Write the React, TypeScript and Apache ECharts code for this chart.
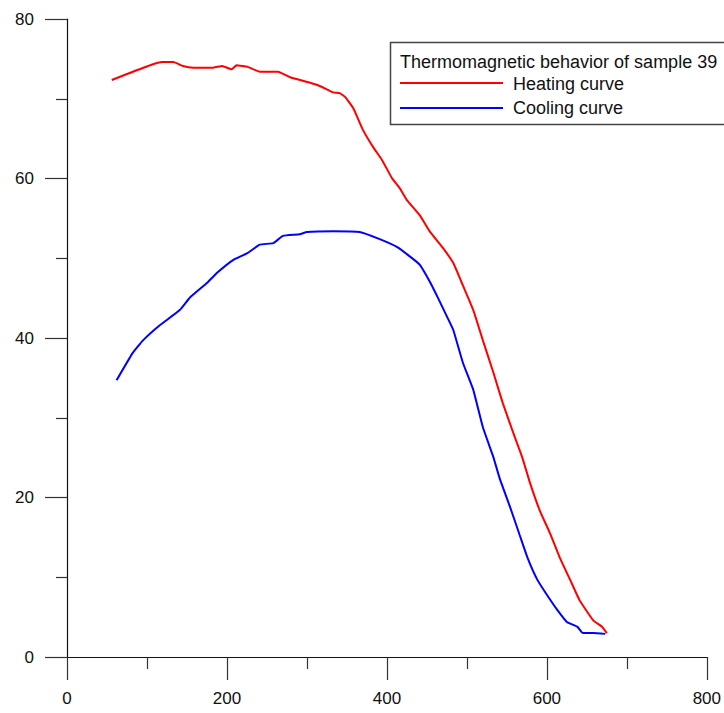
import React, { useEffect, useRef } from "react";
import * as echarts from "echarts";

const heatingX = [56, 75, 104, 119, 133, 145, 158, 183, 194, 206, 212, 226, 241, 264, 279, 304, 316, 333, 341, 348, 358, 370, 383, 394, 406, 416, 425, 441, 454, 470, 483, 495, 508, 520, 533, 545, 558, 569, 579, 591, 604, 616, 629, 641, 658, 669, 675];
const heatingY = [72.35, 73.1, 74.2, 74.6, 74.6, 74.1, 73.9, 73.9, 74.1, 73.7, 74.2, 74.0, 73.4, 73.4, 72.7, 72.0, 71.6, 70.8, 70.7, 70.2, 68.8, 66.1, 63.9, 62.3, 60.1, 58.8, 57.3, 55.4, 53.3, 51.3, 49.4, 46.6, 43.5, 39.7, 35.7, 31.8, 28.1, 25.1, 21.8, 18.4, 15.5, 12.5, 9.7, 7.1, 4.6, 3.8, 3.0];

const coolingX = [62, 82, 95, 116, 141, 154, 175, 188, 208, 225, 241, 258, 270, 291, 300, 333, 366, 391, 413, 429, 441, 454, 464, 476, 483, 495, 508, 520, 533, 541, 554, 566, 576, 588, 600, 613, 625, 638, 645, 658, 673];
const coolingY = [34.7, 38.1, 39.7, 41.6, 43.5, 45.1, 46.9, 48.2, 49.8, 50.6, 51.7, 51.9, 52.8, 53.0, 53.3, 53.4, 53.3, 52.4, 51.4, 50.2, 49.2, 47.0, 45.0, 42.5, 41.0, 36.9, 33.5, 28.8, 25.1, 22.4, 18.8, 15.3, 12.4, 9.7, 7.8, 5.9, 4.4, 3.8, 3.0, 3.0, 2.9];

const legendTitle = "Thermomagnetic behavior of sample 39";
const seriesNames = ["Heating curve", "Cooling curve"];
const seriesColors = ["#ff0000", "#0000ff"];

const FONT = "'Liberation Sans', Arial, sans-serif";

export default function App() {
  const ref = useRef<HTMLDivElement>(null);
  useEffect(() => {
    if (!ref.current) return;
    const chart = echarts.init(ref.current, null, { renderer: "svg" });
    const zip = (xs: number[], ys: number[]) => xs.map((x, i) => [x, ys[i]]);
    const axisCommon = {
      axisLine: { show: true, lineStyle: { color: "#111", width: 1.2 } },
      axisTick: { show: true, inside: false, lineStyle: { color: "#333", width: 1.2 } },
      minorTick: { show: true, splitNumber: 2, lineStyle: { color: "#333", width: 1.2 } },
      splitLine: { show: false },
      minorSplitLine: { show: false },
      axisLabel: { color: "#111", fontSize: 17, fontFamily: FONT, margin: 33 },
    };
    chart.setOption({
      animation: false,
      backgroundColor: "#fff",
      grid: { left: 67, right: 17, top: 19, bottom: 56, containLabel: false },
      xAxis: {
        type: "value",
        min: 0,
        max: 800,
        interval: 200,
        ...axisCommon,
        axisTick: { ...axisCommon.axisTick, length: 23 },
        minorTick: { ...axisCommon.minorTick, length: 12 },
      },
      yAxis: {
        type: "value",
        min: 0,
        max: 80,
        interval: 20,
        ...axisCommon,
        axisTick: { ...axisCommon.axisTick, length: 22 },
        minorTick: { ...axisCommon.minorTick, length: 11 },
      },
      series: [
        {
          name: seriesNames[0],
          type: "line",
          data: zip(heatingX, heatingY),
          showSymbol: false,
          smooth: 0.12,
          lineStyle: { color: seriesColors[0], width: 2 },
          itemStyle: { color: seriesColors[0] },
        },
        {
          name: seriesNames[1],
          type: "line",
          data: zip(coolingX, coolingY),
          showSymbol: false,
          smooth: 0.12,
          lineStyle: { color: seriesColors[1], width: 2 },
          itemStyle: { color: seriesColors[1] },
        },
      ],
      graphic: [
        {
          type: "rect",
          shape: { x: 390.5, y: 42.5, width: 345, height: 82 },
          style: { fill: "#fff", stroke: "#444", lineWidth: 1.5 },
          z: 10,
        },
        {
          type: "text",
          x: 400,
          y: 62,
          style: { text: legendTitle, fill: "#111", font: `18px ${FONT}`, verticalAlign: "middle", align: "left" },
          z: 11,
        },
        {
          type: "line",
          shape: { x1: 400, y1: 83, x2: 503, y2: 83 },
          style: { stroke: seriesColors[0], lineWidth: 2 },
          z: 11,
        },
        {
          type: "text",
          x: 513,
          y: 84,
          style: { text: seriesNames[0], fill: "#111", font: `18px ${FONT}`, verticalAlign: "middle", align: "left" },
          z: 11,
        },
        {
          type: "line",
          shape: { x1: 400, y1: 108, x2: 503, y2: 108 },
          style: { stroke: seriesColors[1], lineWidth: 2 },
          z: 11,
        },
        {
          type: "text",
          x: 513,
          y: 108,
          style: { text: seriesNames[1], fill: "#111", font: `18px ${FONT}`, verticalAlign: "middle", align: "left" },
          z: 11,
        },
      ],
    });
    return () => chart.dispose();
  }, []);
  return <div ref={ref} style={{ width: 724, height: 713, position: "fixed", left: 0, top: 0 }} />;
}
